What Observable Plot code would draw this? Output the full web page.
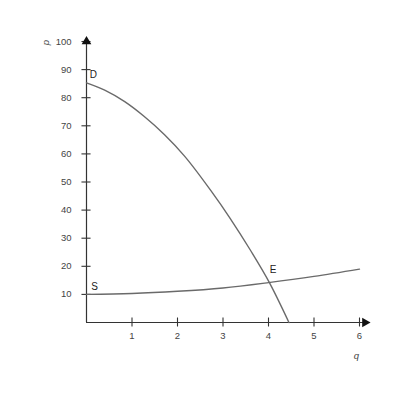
<!DOCTYPE html>
<html>
<head>
<meta charset="utf-8">
<script src="https://cdn.jsdelivr.net/npm/d3@7"></script>
<script src="https://cdn.jsdelivr.net/npm/@observablehq/plot@0.6"></script>
<style>
  html, body { margin: 0; padding: 0; background: #fff; }
</style>
</head>
<body>
<div id="chart"></div>
<script>
// Demand curve D (q, p)
const demandQ = [0, 0.4, 0.84, 1.27, 1.71, 2.15, 2.73, 3.16, 3.6, 4.02, 4.45];
const demandP = [85.3, 82.7, 78.6, 73.3, 66.9, 59.3, 47.0, 37.0, 25.8, 14.2, 0];
// Supply curve S (q, p)
const supplyQ = [0, 1, 2, 3, 4, 5, 6];
const supplyP = [10, 10.3, 11.1, 12.3, 14.2, 16.4, 19];
// Axis ticks
const xTicks = [1, 2, 3, 4, 5, 6];
const yTicks = [10, 20, 30, 40, 50, 60, 70, 80, 90, 100];
// Curve labels
const curveLabels = [
  {text: "D", q: 0.15, p: 88},
  {text: "S", q: 0.18, p: 12.7},
  {text: "E", q: 4.1, p: 18.6}
];

const demand = demandQ.map((q, i) => ({q, p: demandP[i]}));
const supply = supplyQ.map((q, i) => ({q, p: supplyP[i]}));

const font = "Liberation Sans, Arial, sans-serif";
const axisColor = "#333";
const curveColor = "#6a6a6a";
const textColor = "#444";

const chart = Plot.plot({
  width: 400,
  height: 400,
  marginLeft: 86,
  marginRight: 41,
  marginTop: 41,
  marginBottom: 78,
  x: {domain: [0, 6], axis: null},
  y: {domain: [0, 100], axis: null},
  style: {fontFamily: font, background: "#fff"},
  marks: [
    // axes lines
    Plot.ruleY([0], {x1: 0, x2: 6.1, stroke: axisColor, strokeWidth: 1.2}),
    Plot.ruleX([0], {y1: 0, y2: 100, stroke: axisColor, strokeWidth: 1.2}),
    // tick marks crossing the axes
    Plot.ruleY(yTicks, {y: d => d, x1: -0.1, x2: 0.1, stroke: axisColor, strokeWidth: 1.1}),
    Plot.ruleX(xTicks, {x: d => d, y1: -1.6, y2: 1.6, stroke: axisColor, strokeWidth: 1.1}),
    // arrow heads
    Plot.dot([0], {x: 0, y: 100, symbol: "triangle", r: 3.6, fill: "#111", stroke: null}),
    Plot.dot([0], {x: 6.12, y: 0, symbol: "triangle", r: 3.6, rotate: 90, fill: "#111", stroke: null}),
    // tick labels
    Plot.text(yTicks, {x: 0, y: d => d, text: d => String(d), textAnchor: "end", dx: -15, fontSize: 9.5, fill: textColor}),
    Plot.text(xTicks, {x: d => d, y: 0, text: d => String(d), dy: 13, fontSize: 9.5, fill: textColor}),
    // axis titles
    Plot.text(["p"], {x: 0, y: 100, dx: -41, dy: 1, text: d => d, rotate: -90, fontStyle: "italic", fontSize: 9.5, fill: textColor}),
    Plot.text(["q"], {x: 6, y: 0, dx: -3, dy: 33, text: d => d, fontStyle: "italic", fontSize: 9.5, fill: textColor}),
    // curves
    Plot.line(demand, {x: "q", y: "p", curve: "monotone-x", stroke: curveColor, strokeWidth: 1.4}),
    Plot.line(supply, {x: "q", y: "p", curve: "monotone-x", stroke: curveColor, strokeWidth: 1.4}),
    // curve labels
    Plot.text(curveLabels, {x: "q", y: "p", text: "text", fontSize: 10, fill: "#222"})
  ]
});
document.getElementById("chart").append(chart);
</script>
</body>
</html>
